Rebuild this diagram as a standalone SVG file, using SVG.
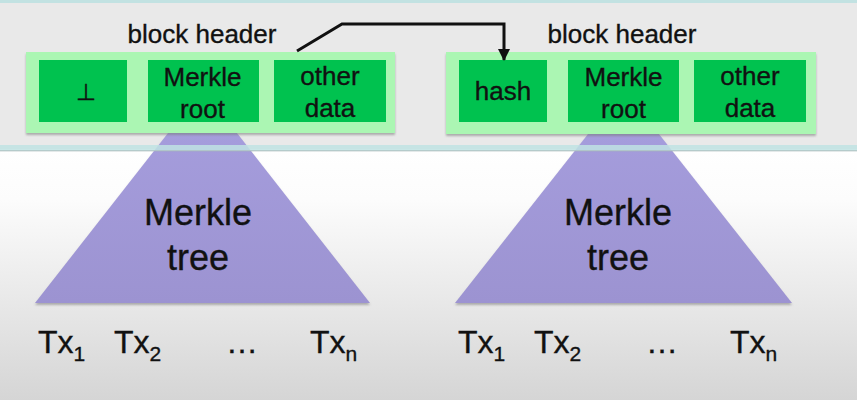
<svg xmlns="http://www.w3.org/2000/svg" width="857" height="400" viewBox="0 0 857 400">
  <defs>
    <linearGradient id="bg" x1="0" y1="150" x2="0" y2="400" gradientUnits="userSpaceOnUse">
      <stop offset="0" stop-color="#ffffff"/>
      <stop offset="0.2" stop-color="#fcfcfc"/>
      <stop offset="1" stop-color="#d5d5d5"/>
    </linearGradient>
    <linearGradient id="tri" x1="0" y1="0" x2="0" y2="1">
      <stop offset="0" stop-color="#a79fdf"/>
      <stop offset="1" stop-color="#9c93d1"/>
    </linearGradient>
    <filter id="sh" x="-5%" y="-5%" width="110%" height="120%">
      <feDropShadow dx="0" dy="2" stdDeviation="1.2" flood-color="#777" flood-opacity="0.55"/>
    </filter>
    <marker id="arr" viewBox="0 0 12 12" refX="11" refY="6" markerWidth="12" markerHeight="12" markerUnits="userSpaceOnUse" orient="auto">
      <path d="M0,0 L12,6 L0,12 Z" fill="#111"/>
    </marker>
    <style>
      .t { font-family: "Liberation Sans", Arial, sans-serif; fill: #111; stroke: #111; stroke-width: 0.35px; }
      .hdr { font-size: 26px; text-anchor: middle; }
      .box { font-size: 26px; text-anchor: middle; }
      .big { font-size: 36px; text-anchor: middle; }
      .tx { font-size: 32px; }
      .sub { font-size: 21px; }
      .outer { fill: #abf6b3; }
      .inner { fill: #00c24f; }
      .treeshape { fill: url(#tri); }
    </style>
  </defs>

  <!-- background -->
  <rect x="0" y="0" width="857" height="400" fill="url(#bg)"/>
  <rect x="0" y="0" width="857" height="149" fill="#e9e9e9"/>
  <rect x="0" y="0" width="857" height="3" fill="#c2e2e2"/>

  <!-- trees -->
  <g id="tree1" filter="url(#sh)">
    <polygon class="treeshape" points="202.5,89 370,303 35,303"/>
  </g>
  <g id="tree2" filter="url(#sh)">
    <polygon class="treeshape" points="623.5,89 792,303 455,303"/>
  </g>

  <!-- band bottom line -->
  <rect x="0" y="145" width="857" height="6" fill="#bfe3e3" opacity="0.85"/>
  <rect x="0" y="150" width="857" height="1.5" fill="#a9b9b9" opacity="0.6"/>

  <g id="tree1-label">
    <text class="t big" x="198" y="225">Merkle</text>
    <text class="t big" x="198" y="270">tree</text>
  </g>
  <g id="tree2-label">
    <text class="t big" x="618" y="225">Merkle</text>
    <text class="t big" x="618" y="270">tree</text>
  </g>

  <!-- block header 1 -->
  <g id="header1">
    <text class="t hdr" x="202" y="43">block header</text>
    <rect class="outer" x="26" y="52" width="369" height="81" filter="url(#sh)"/>
    <g id="h1-prev">
      <rect class="inner" x="39" y="60" width="88" height="62"/>
      <text class="t box" x="86" y="100" style="font-size:23px">⊥</text>
    </g>
    <g id="h1-root">
      <rect class="inner" x="148" y="60" width="111" height="62"/>
      <text class="t box" x="202.5" y="86">Merkle</text>
      <text class="t box" x="202.5" y="118">root</text>
    </g>
    <g id="h1-other">
      <rect class="inner" x="274" y="60" width="112" height="62"/>
      <text class="t box" x="330" y="85">other</text>
      <text class="t box" x="330" y="117">data</text>
    </g>
  </g>

  <!-- block header 2 -->
  <g id="header2">
    <text class="t hdr" x="622" y="43">block header</text>
    <rect class="outer" x="446" y="52" width="370" height="82" filter="url(#sh)"/>
    <g id="h2-hash">
      <rect class="inner" x="459" y="60" width="88" height="62"/>
      <text class="t box" x="503" y="100">hash</text>
    </g>
    <g id="h2-root">
      <rect class="inner" x="568" y="60" width="111" height="62"/>
      <text class="t box" x="623.5" y="86">Merkle</text>
      <text class="t box" x="623.5" y="118">root</text>
    </g>
    <g id="h2-other">
      <rect class="inner" x="694" y="60" width="112" height="62"/>
      <text class="t box" x="750" y="85">other</text>
      <text class="t box" x="750" y="117">data</text>
    </g>
  </g>

  <!-- connectors -->
  <g id="connectors">
    <polyline points="297,51 342,24 504,24 504,60" fill="none" stroke="#111" stroke-width="3" stroke-linejoin="miter" marker-end="url(#arr)"/>
  </g>

  <!-- transactions -->
  <g id="txs1">
    <text class="t tx" x="38" y="353">Tx<tspan class="sub" dy="8">1</tspan></text>
    <text class="t tx" x="114" y="353">Tx<tspan class="sub" dy="8">2</tspan></text>
    <text class="t tx" x="226" y="353">…</text>
    <text class="t tx" x="310" y="353">Tx<tspan class="sub" dy="8">n</tspan></text>
  </g>
  <g id="txs2">
    <text class="t tx" x="458" y="353">Tx<tspan class="sub" dy="8">1</tspan></text>
    <text class="t tx" x="534" y="353">Tx<tspan class="sub" dy="8">2</tspan></text>
    <text class="t tx" x="646" y="353">…</text>
    <text class="t tx" x="730" y="353">Tx<tspan class="sub" dy="8">n</tspan></text>
  </g>
</svg>
